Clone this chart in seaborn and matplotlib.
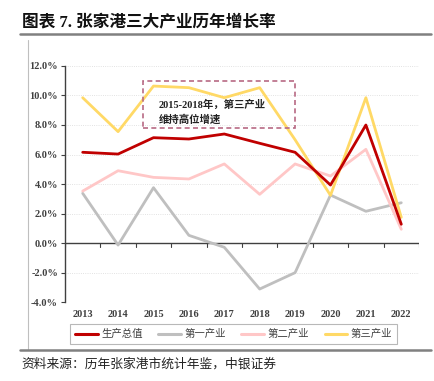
import numpy as np
import pandas as pd
import matplotlib.pyplot as plt
import seaborn as sns
from matplotlib.patches import Rectangle
from matplotlib.lines import Line2D

# Data (growth rate, %)
years = ['2013', '2014', '2015', '2016', '2017', '2018', '2019', '2020', '2021', '2022']
gdp = [6.15, 6.03, 7.14, 7.05, 7.39, 6.76, 6.15, 3.93, 8.0, 1.27]
primary = [3.37, -0.14, 3.75, 0.52, -0.29, -3.12, -2.01, 3.25, 2.15, 2.73]
secondary = [3.52, 4.9, 4.45, 4.34, 5.36, 3.3, 5.36, 4.54, 6.35, 0.93]
tertiary = [9.85, 7.55, 10.64, 10.53, 9.85, 10.53, 7.0, 3.23, 9.85, 1.74]

series_names = ['生产总值', '第一产业', '第二产业', '第三产业']
colors = ['#C00000', '#BFBFBF', '#FFC7C7', '#FFD966']
y_ticks = [-4, -2, 0, 2, 4, 6, 8, 10, 12]

sns.set_theme(style='white')
plt.rcParams['font.family'] = ['Liberation Serif', 'Noto Sans CJK SC', 'DejaVu Sans']
plt.rcParams['axes.unicode_minus'] = False

df = pd.DataFrame({'year': years * 4,
                   'series': np.repeat(series_names, len(years)),
                   'value': gdp + primary + secondary + tertiary})
df['x'] = np.tile(np.arange(len(years)), 4)

fig = plt.figure(figsize=(4.35, 3.81), dpi=100)
ax = fig.add_axes([0.1494, 0.2073, 0.8138, 0.6195])

# draw back-to-front: grey, pink, red, yellow
order = ['第一产业', '第二产业', '生产总值', '第三产业']
for name in order:
    sub = df[df['series'] == name]
    sns.lineplot(data=sub, x='x', y='value', ax=ax, color=colors[series_names.index(name)],
                 linewidth=2.0, legend=False)
ax.lines[2].set_zorder(4)

ax.set_xlim(-0.5, len(years) - 0.5)
ax.set_ylim(-4, 12)
ax.set_yticks(y_ticks)
ax.set_yticklabels([f'{v:.1f}%' for v in y_ticks], fontsize=7.5, color='#404040')
ax.set_xticks(range(len(years)))
ax.set_xticklabels(years, fontsize=7.5, color='#404040')
ax.set_xlabel('')
ax.set_ylabel('')
ax.tick_params(axis='y', length=3, width=0.8, color='#404040', pad=2, left=True)
ax.tick_params(axis='x', length=0, pad=6)
for lbl in ax.get_yticklabels() + ax.get_xticklabels():
    lbl.set_fontweight('bold')

for y in y_ticks:
    if y != 0:
        ax.axhline(y, color='#D9D9D9', linewidth=0.6, linestyle=':', zorder=0)
ax.axhline(0, color='#404040', linewidth=1.0, zorder=1)
# category boundary ticks on the zero line
for b in np.arange(-0.5, len(years), 1.0):
    ax.plot([b, b], [0, -0.25], color='#404040', linewidth=0.8, zorder=1)

for s in ['top', 'right', 'bottom']:
    ax.spines[s].set_visible(False)
ax.spines['left'].set_color('#404040')
ax.spines['left'].set_linewidth(1.0)

# annotation box
ax.add_patch(Rectangle((1.7, 7.8), 4.3, 3.2, fill=False, edgecolor='#B86A84',
                       linestyle=(0, (3, 2)), linewidth=1.2, zorder=5))
ax.text(2.15, 9.15, '2015-2018年，第三产业', fontsize=7.5, fontweight='bold', color='#222222', zorder=6)
ax.text(2.15, 8.15, '维持高位增速', fontsize=7.5, fontweight='bold', color='#222222', zorder=6)

# legend
handles = [Line2D([0], [0], color=c, linewidth=2.2) for c in colors]
leg = fig.legend(handles, series_names, loc='center', bbox_to_anchor=(0.537, 0.123), ncol=4,
                 frameon=True, fontsize=7.5, handlelength=2.2, columnspacing=1.5,
                 handletextpad=0.3, borderpad=0.45, fancybox=False)
leg.get_frame().set_edgecolor('#A6A6A6')
leg.get_frame().set_linewidth(0.8)
for t in leg.get_texts():
    t.set_color('#404040')

# header and footer
fig.text(0.05, 0.93, '图表 7. 张家港三大产业历年增长率', fontsize=12, fontweight='bold', color='#111111')
fig.add_artist(Line2D([0.045, 0.99], [0.912, 0.912], color='#808080', linewidth=1.8))
fig.add_artist(Line2D([0.0645, 0.0645], [0.895, 0.085], color='#BFBFBF', linewidth=0.8))
fig.add_artist(Line2D([0.045, 0.99], [0.082, 0.082], color='#808080', linewidth=1.8))
fig.text(0.05, 0.035, '资料来源：历年张家港市统计年鉴，中银证券', fontsize=9.2, style='italic', color='#222222')

fig.savefig('out.png', dpi=100)
